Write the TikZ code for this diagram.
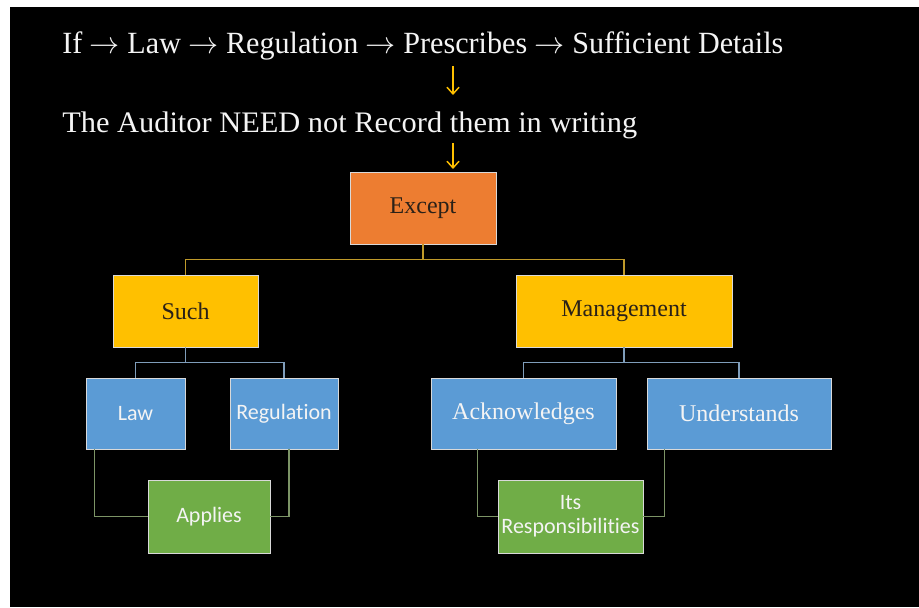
\documentclass[tikz,border=0pt]{standalone}
\usepackage{fontspec}
\setmainfont{Liberation Serif}
\newfontfamily\carlito[Ligatures=NoCommon]{Carlito}
\usetikzlibrary{arrows.meta,calc}
\definecolor{orangebox}{HTML}{ED7D31}
\definecolor{yellowbox}{HTML}{FFC000}
\definecolor{bluebox}{HTML}{5B9BD5}
\definecolor{greenbox}{HTML}{70AD47}
\definecolor{goldline}{HTML}{BF9A2A}
\definecolor{blueline}{HTML}{7F9DBA}
\definecolor{greenline}{HTML}{7C9466}
\definecolor{darktext}{HTML}{2A2118}
\definecolor{lighttext}{HTML}{F4F4F4}
\tikzset{
  box/.style={draw=white!85!black, line width=0.6pt, inner sep=0pt, align=center},
  serifbox/.style={box, font=\fontsize{18}{21}\selectfont},
  sansbox/.style={box, font=\carlito\fontsize{16.5}{18}\selectfont, text=lighttext},
  title/.style={anchor=base west, text=lighttext, inner sep=0pt},
  yarrow/.style={draw=yellowbox, line width=1.1pt, -{Straight Barb[length=5pt,width=9pt]}},
  link/.style={line width=0.8pt},
}
\begin{document}
\begin{tikzpicture}[x=0.75pt,y=-0.75pt]
\useasboundingbox (0,0) rectangle (919,607);
\fill[white] (0,0) rectangle (919,607);
\fill[black] (10,7) rectangle (919,607);

\node[title] (t1) at (62,53) {\resizebox{540.75pt}{16.3pt}{If $\rightarrow$ Law $\rightarrow$ Regulation $\rightarrow$ Prescribes $\rightarrow$ Sufficient Details}};
\node[title] (t2) at (62,132) {\resizebox{431.25pt}{15.5pt}{The Auditor NEED not Record them in writing}};

\coordinate (a1s) at (453,66);
\coordinate (a1e) at (453,95);
\coordinate (a2s) at (453,143);
\coordinate (a2e) at (453,169);
\draw[yarrow] (a1s) -- (a1e);
\draw[yarrow] (a2s) -- (a2e);

\node[serifbox, fill=orangebox, text=darktext, minimum width=146*0.75pt, minimum height=72*0.75pt] (ex) at (423,208) {Except};
\node[serifbox, fill=yellowbox, text=darktext, minimum width=145*0.75pt, minimum height=72*0.75pt] (su) at (185.5,311) {Such};
\node[serifbox, fill=yellowbox, text=darktext, minimum width=216*0.75pt, minimum height=72*0.75pt] (mg) at (624,311) {Management};

\node[sansbox, fill=bluebox, minimum width=99*0.75pt, minimum height=71*0.75pt] (law) at (135.5,413.5) {Law};
\node[sansbox, fill=bluebox, minimum width=108*0.75pt, minimum height=71*0.75pt] (reg) at (284,413.5) {Regulation};
\node[serifbox, fill=bluebox, text=lighttext, minimum width=185*0.75pt, minimum height=71*0.75pt] (ack) at (523.5,413.5) {Acknowledges};
\node[serifbox, fill=bluebox, text=lighttext, minimum width=184*0.75pt, minimum height=71*0.75pt] (und) at (739,413.5) {Understands};

\node[sansbox, fill=greenbox, minimum width=122*0.75pt, minimum height=73*0.75pt] (app) at (209,516.5) {Applies};
\node[sansbox, fill=greenbox, minimum width=145*0.75pt, minimum height=73*0.75pt] (its) at (570.5,516.5) {Its\\Responsibilities};

\draw[link, goldline] (ex.south) -- ++(0,15) -| (su.north);
\draw[link, goldline] (ex.south) -- ++(0,15) -| (mg.north);
\draw[link, blueline] (su.south) -- ++(0,15) -| (law.north);
\draw[link, blueline] (su.south) -- ++(0,15) -| (reg.north);
\draw[link, blueline] (mg.south) -- ++(0,15) -| (ack.north);
\draw[link, blueline] (mg.south) -- ++(0,15) -| (und.north);
\draw[link, greenline] ($(law.south west)+(9,0)$) |- (app.west);
\draw[link, greenline] ($(reg.south)+(5,0)$) |- (app.east);
\draw[link, greenline] ($(ack.south west)+(47,0)$) |- (its.west);
\draw[link, greenline] ($(und.south west)+(18,0)$) |- (its.east);
\end{tikzpicture}
\end{document}
